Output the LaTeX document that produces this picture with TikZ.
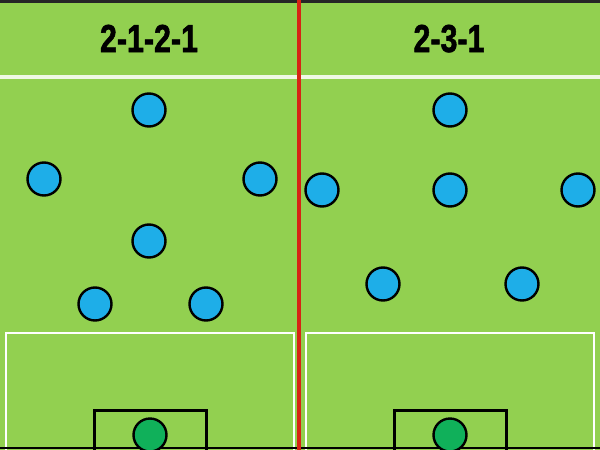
\documentclass[tikz,border=0pt]{standalone}
\usepackage{fontspec}
\setmainfont{Liberation Sans}
\newfontfamily\titlefont{Liberation Sans}[BoldFeatures={FakeBold=1.6}]
\definecolor{pitch}{RGB}{146,208,80}
\definecolor{shirt}{RGB}{30,174,232}
\definecolor{keepergreen}{RGB}{16,176,90}
\definecolor{midline}{RGB}{215,35,20}
\begin{document}
\begin{tikzpicture}[x=1pt, y=-1pt,
        player/.style={circle, draw, line width=2.4pt, fill=shirt, minimum size=33pt, inner sep=0pt},
        keeper/.style={player, fill=keepergreen},
        title/.style={anchor=base, xscale=0.78, font=\titlefont\bfseries\fontsize{39}{39}\selectfont}]
                \useasboundingbox (0,0) rectangle (600,450);
                \clip (0,0) rectangle (600,450);
                % Pitch
                \fill[pitch] (0,0) rectangle (600,450);
                \fill[black!85] (0,0) rectangle (600,2.5);
                \draw[white!85!pitch, line width=4pt] (0,77) -- (600,77);
                \draw[white, line width=2.5pt] (6,450) |- (294,333) -- (294,450);
                \draw[white, line width=2.5pt] (306,450) |- (594,333) -- (594,450);
                \draw[black, line width=3pt] (94,450) |- (206,410) -- (206,450);
                \draw[black, line width=3pt] (394,450) |- (506,410) -- (506,450);
                \draw[black, line width=2pt] (0,448) -- (600,448);
                \draw[midline, line width=3.5pt] (299,0) -- (299,450);

                % Titles
                \node[title] at (149, 52) (ta) {2-1-2-1};
                \node[title] at (449, 52) (tb) {2-3-1};

                % Nodes
                \node[player] at (149, 110) (a) {};
                \node[player] at (44, 179)  (b) {};
                \node[player] at (260, 179) (c) {};
                \node[player] at (149, 241) (d) {};
                \node[player] at (95, 304)  (e) {};
                \node[player] at (206, 304) (f) {};
                \node[keeper] at (150, 435) (g) {};

                \node[player] at (450, 110) (h) {};
                \node[player] at (322, 190) (i) {};
                \node[player] at (450, 190) (j) {};
                \node[player] at (578, 190) (k) {};
                \node[player] at (383, 284) (l) {};
                \node[player] at (522, 284) (m) {};
                \node[keeper] at (450, 435) (n) {};
            \end{tikzpicture}
\end{document}
